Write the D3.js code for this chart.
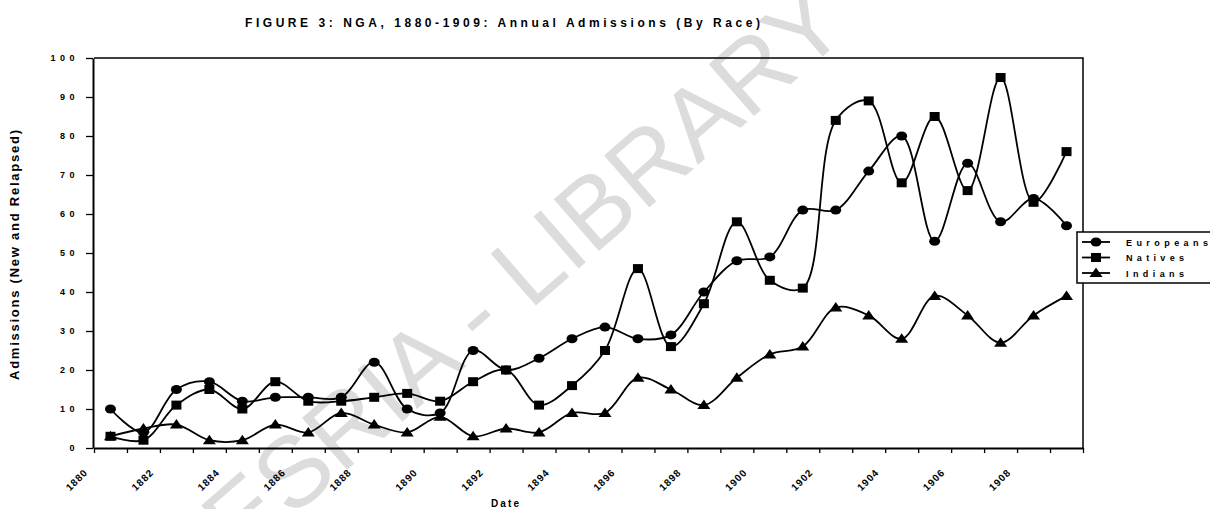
<!DOCTYPE html>
<html>
<head>
<meta charset="utf-8">
<script src="https://cdn.jsdelivr.net/npm/d3@7"></script>
<style>
  body { margin: 0; background: #fff; }
  text { font-family: "Liberation Sans", Arial, sans-serif; }
</style>
</head>
<body>
<script>
// data (admissions per year)
const years = [1880, 1881, 1882, 1883, 1884, 1885, 1886, 1887, 1888, 1889,
               1890, 1891, 1892, 1893, 1894, 1895, 1896, 1897, 1898, 1899,
               1900, 1901, 1902, 1903, 1904, 1905, 1906, 1907, 1908, 1909];
const europeans = [10, 4, 15, 17, 12, 13, 13, 13, 22, 10,
                   9, 25, 20, 23, 28, 31, 28, 29, 40, 48,
                   49, 61, 61, 71, 80, 53, 73, 58, 64, 57];
const natives = [3, 2, 11, 15, 10, 17, 12, 12, 13, 14,
                 12, 17, 20, 11, 16, 25, 46, 26, 37, 58,
                 43, 41, 84, 89, 68, 85, 66, 95, 63, 76];
const indians = [3, 5, 6, 2, 2, 6, 4, 9, 6, 4,
                 8, 3, 5, 4, 9, 9, 18, 15, 11, 18,
                 24, 26, 36, 34, 28, 39, 34, 27, 34, 39];
const seriesNames = ["Europeans", "Natives", "Indians"];
const markerTypes = ["circle", "square", "triangle"];
const yTicks = [0, 10, 20, 30, 40, 50, 60, 70, 80, 90, 100];
const xLabelYears = [1880, 1882, 1884, 1886, 1888, 1890, 1892, 1894, 1896, 1898, 1900, 1902, 1904, 1906, 1908];

const width = 1210, height = 509;
const margin = { top: 58, right: 127, bottom: 61, left: 94 };

const svg = d3.select("body").append("svg")
    .attr("width", width)
    .attr("height", height);

// watermark from the scan
svg.append("text")
    .attr("transform", "translate(462,370) rotate(-41)")
    .attr("text-anchor", "middle")
    .attr("font-size", 100)
    .attr("fill", "#dcdcdc")
    .text("CODESRIA - LIBRARY");

const x = d3.scaleLinear()
    .domain([1880, 1910])
    .range([margin.left, width - margin.right]);
const y = d3.scaleLinear()
    .domain([0, 100])
    .range([height - margin.bottom, margin.top]);

// title
svg.append("text")
    .attr("x", 245)
    .attr("y", 27)
    .attr("font-size", 12)
    .attr("font-weight", "bold")
    .attr("textLength", 515)
    .attr("lengthAdjust", "spacing")
    .text("FIGURE 3: NGA, 1880-1909: Annual Admissions (By Race)");

// plot frame (top + right)
svg.append("path")
    .attr("d", `M${x(1880)},${y(100)}H${x(1910)}V${y(0)}`)
    .attr("fill", "none")
    .attr("stroke", "#000")
    .attr("stroke-width", 1.5);

// x axis
const xAxis = svg.append("g")
    .attr("transform", `translate(0,${y(0)})`)
    .call(d3.axisBottom(x)
        .tickValues(d3.range(1880, 1911))
        .tickSize(5)
        .tickSizeOuter(0)
        .tickFormat(d => xLabelYears.includes(d) ? d : ""));
xAxis.select(".domain").attr("stroke-width", 2);
xAxis.selectAll(".tick line").attr("stroke-width", 1.3);
xAxis.selectAll(".tick text")
    .attr("y", 0).attr("dy", 0)
    .attr("text-anchor", "end")
    .attr("font-size", 10)
    .attr("font-weight", "bold")
    .attr("letter-spacing", 1)
    .attr("fill", "#000")
    .attr("transform", "translate(-6,25) rotate(-45)");

// y axis
const yAxis = svg.append("g")
    .attr("transform", `translate(${margin.left - 1},0)`)
    .call(d3.axisLeft(y)
        .tickValues(yTicks)
        .tickSize(7)
        .tickSizeOuter(0));
yAxis.select(".domain").attr("stroke-width", 2);
yAxis.selectAll(".tick line").attr("stroke-width", 1.3);
yAxis.selectAll(".tick text")
    .attr("x", -14)
    .attr("font-size", 9)
    .attr("font-weight", "bold")
    .attr("letter-spacing", 4.5)
    .attr("fill", "#000");

// axis titles
svg.append("text")
    .attr("transform", "translate(19,255) rotate(-90)")
    .attr("text-anchor", "middle")
    .attr("font-size", 13)
    .attr("font-weight", "bold")
    .attr("textLength", 250)
    .attr("lengthAdjust", "spacing")
    .text("Admissions (New and Relapsed)");

svg.append("text")
    .attr("x", 505)
    .attr("y", 507)
    .attr("text-anchor", "middle")
    .attr("font-size", 10)
    .attr("font-weight", "bold")
    .attr("textLength", 28)
    .attr("lengthAdjust", "spacing")
    .text("Date");

// markers
const drawMarker = (g, type, cx, cy) => {
    if (type === "circle") {
        g.append("ellipse").attr("cx", cx).attr("cy", cy).attr("rx", 5.5).attr("ry", 4.5);
    } else if (type === "square") {
        g.append("rect").attr("x", cx - 5).attr("y", cy - 4.5).attr("width", 10).attr("height", 9);
    } else {
        g.append("path").attr("d", `M${cx},${cy - 5.5}L${cx + 6.5},${cy + 4}L${cx - 6.5},${cy + 4}Z`);
    }
};

const allSeries = [europeans, natives, indians];
const line = d3.line()
    .x((d, i) => x(years[i] + 0.5))
    .y(d => y(d))
    .curve(d3.curveCatmullRom.alpha(0.5));

allSeries.forEach((values, s) => {
    const g = svg.append("g").attr("fill", "#000");
    g.append("path")
        .datum(values)
        .attr("d", line)
        .attr("fill", "none")
        .attr("stroke", "#000")
        .attr("stroke-width", 1.8);
    values.forEach((v, i) => drawMarker(g, markerTypes[s], x(years[i] + 0.5), y(v)));
});

// legend (box runs off the right edge as in the scan)
const legend = svg.append("g");
legend.append("rect")
    .attr("x", 1077).attr("y", 232)
    .attr("width", 150).attr("height", 51)
    .attr("fill", "#fff")
    .attr("stroke", "#000")
    .attr("stroke-width", 1.5);
const legendLens = [82, 58, 58];
seriesNames.forEach((name, i) => {
    const ly = 242 + i * 15.5;
    const g = legend.append("g").attr("fill", "#000");
    g.append("line")
        .attr("x1", 1082).attr("x2", 1110)
        .attr("y1", ly).attr("y2", ly)
        .attr("stroke", "#000").attr("stroke-width", 1.8);
    drawMarker(g, markerTypes[i], 1096, ly);
    g.append("text")
        .attr("x", 1126)
        .attr("y", ly + 3.5)
        .attr("font-size", 9)
        .attr("font-weight", "bold")
        .attr("textLength", legendLens[i])
        .attr("lengthAdjust", "spacing")
        .text(name);
});
</script>
</body>
</html>
